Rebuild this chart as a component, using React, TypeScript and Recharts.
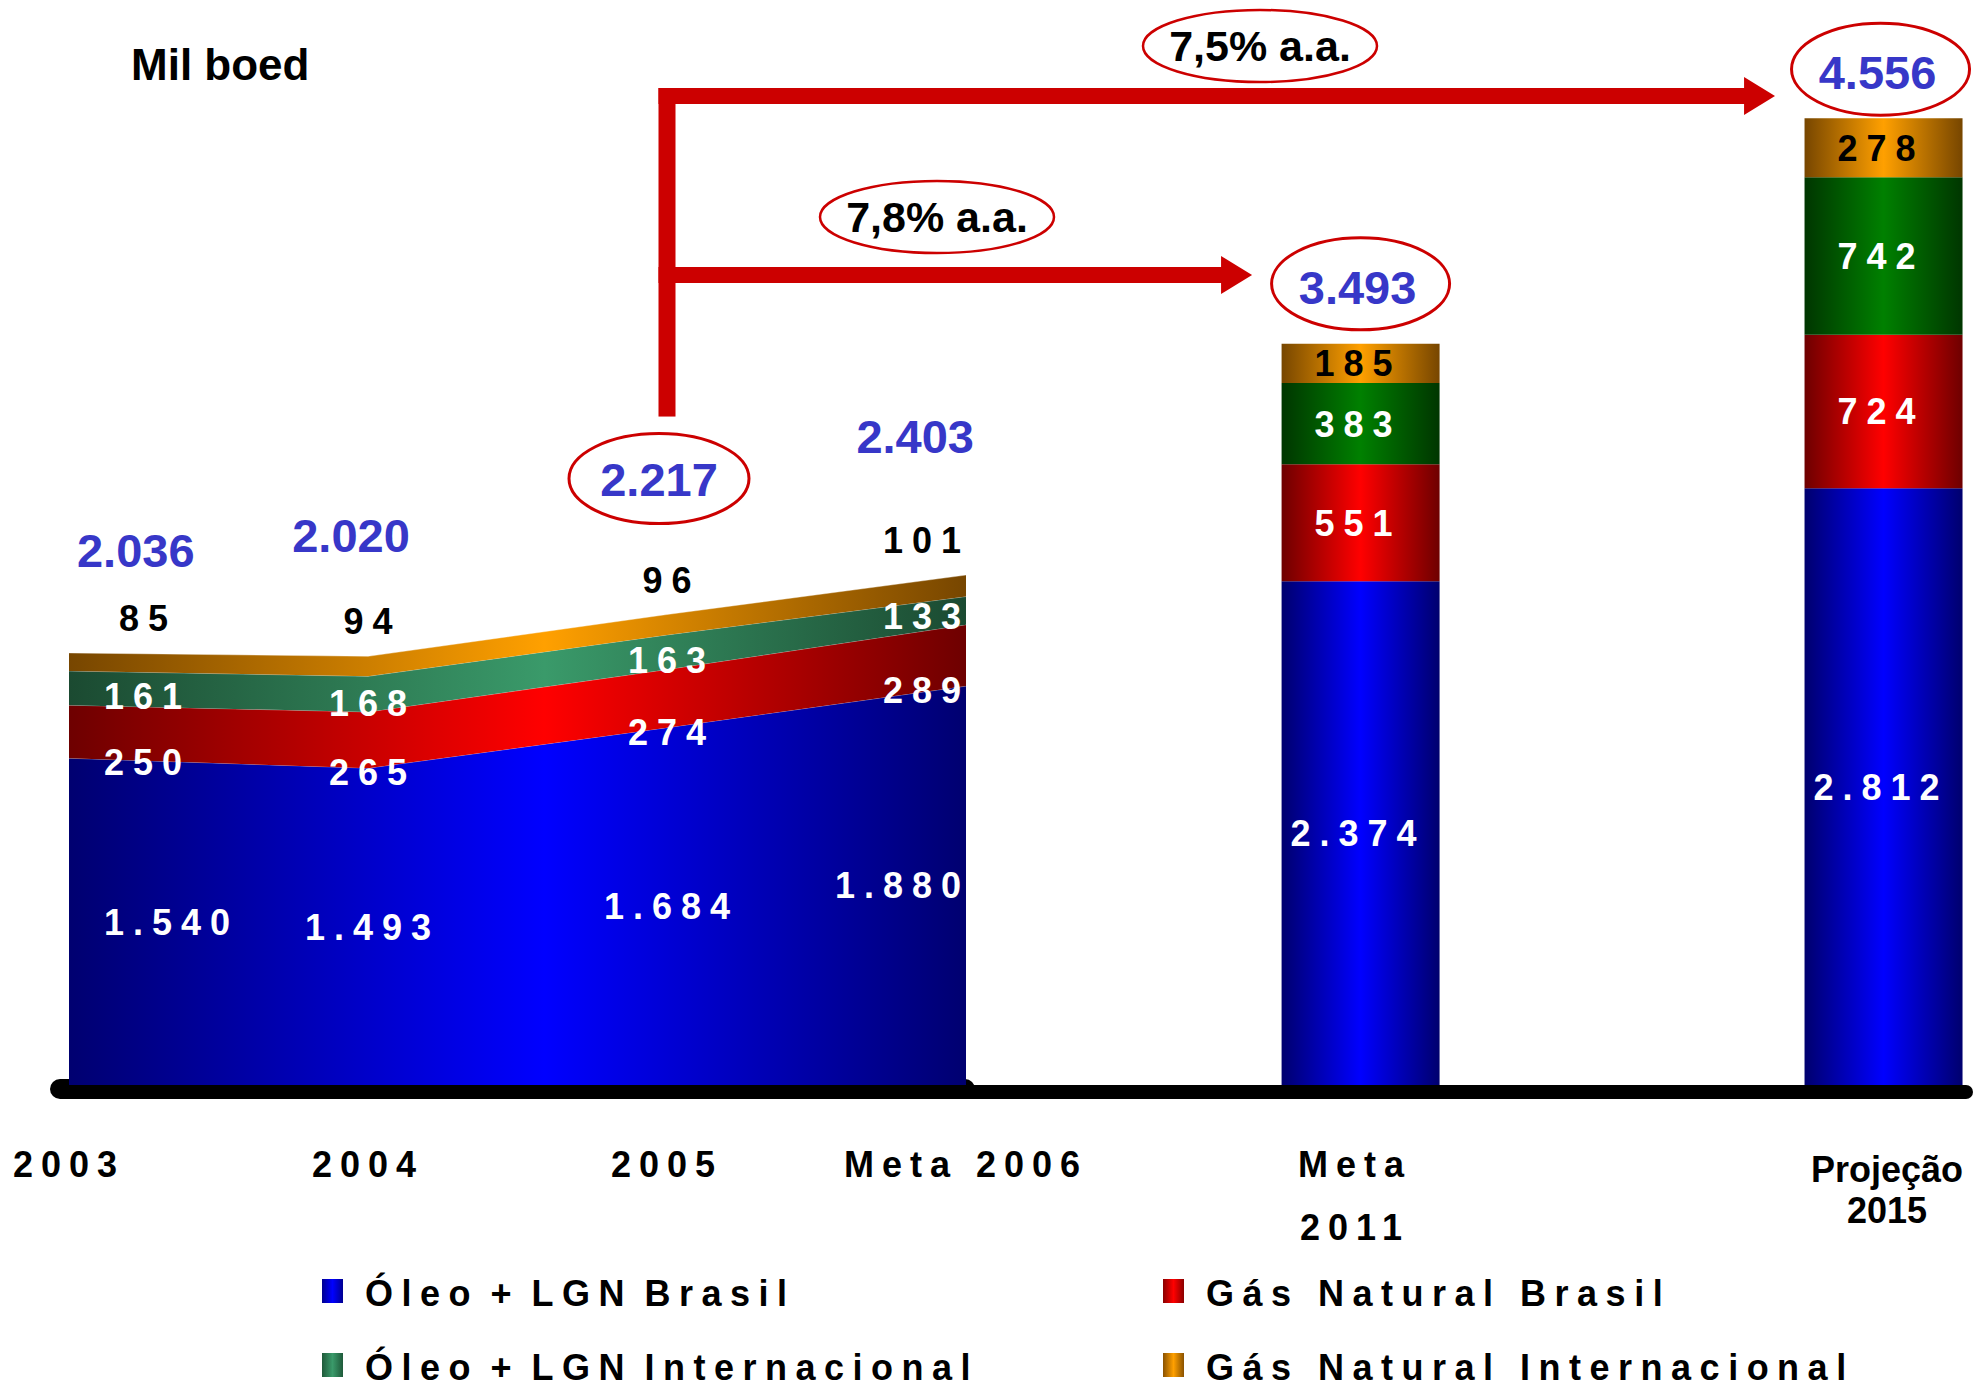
import React from "react"
import {
  ComposedChart,
  Area,
  Bar,
  XAxis,
  YAxis,
  LabelList,
  Legend,
  Customized,
} from "recharts"

// categories along the x axis; the first four are drawn as a stacked area, the last two as bars
const categories = ["2003", "2004", "2005", "Meta 2006", "Meta 2011", "Projeção 2015"]
const slots = [0, 1, 2, 3, 4.318, 6.067] // where each category sits on the x scale
const areaCount = 4

// Mil boed
const oleoBrasil = [1540, 1493, 1684, 1880, 2374, 2812]
const gasBrasil = [250, 265, 274, 289, 551, 724]
const oleoInternacional = [161, 168, 163, 133, 383, 742]
const gasInternacional = [85, 94, 96, 101, 185, 278]

const growthFrom = ["2005", "2005"]
const growthTo = ["Meta 2011", "Projeção 2015"]
const growthLabels = ["7,8% a.a.", "7,5% a.a."]

const series = [
  { key: "oleoBrasil", name: "Óleo + LGN Brasil", values: oleoBrasil, area: ["#000070", "#0000ff"], bar: ["#00006e", "#0000ff"], swatch: ["#000090", "#0000ff"], ink: "#fff" },
  { key: "gasBrasil", name: "Gás Natural Brasil", values: gasBrasil, area: ["#6e0000", "#ff0000"], bar: ["#6e0000", "#ff0000"], swatch: ["#8a0000", "#ff0000"], ink: "#fff" },
  { key: "oleoInternacional", name: "Óleo + LGN Internacional", values: oleoInternacional, area: ["#1b4a31", "#3a9a6a"], bar: ["#003600", "#008000"], swatch: ["#1f5a3a", "#3a9a6a"], ink: "#fff" },
  { key: "gasInternacional", name: "Gás Natural Internacional", values: gasInternacional, area: ["#774600", "#ffa000"], bar: ["#774600", "#ffa000"], swatch: ["#8a5200", "#ffa000"], ink: "#000" },
]

const totals = categories.map((_, i) => series.reduce((t, s) => t + s.values[i], 0))

const rows = categories.map((name, i) => {
  const row: Record<string, number | string> = { name, slot: slots[i] }
  series.forEach((s) => {
    row[(i < areaCount ? "a_" : "b_") + s.key] = s.values[i]
  })
  return row
})

// layout
const W = 1973
const H = 1385
const M_LEFT = 69
const M_RIGHT = 0
const M_TOP = 24
const PLOT_BOTTOM = 1085
const PLOT_W = W - M_LEFT - M_RIGHT
const X_MAX = PLOT_W / 299
const Y_MAX = 5000
const PX_PER_UNIT = (PLOT_BOTTOM - M_TOP) / Y_MAX
const xPx = (s: number) => M_LEFT + (s / X_MAX) * PLOT_W
const yPx = (v: number) => PLOT_BOTTOM - v * PX_PER_UNIT

const FONT = '"Liberation Sans", Arial, Helvetica, sans-serif'
const RED = "#cc0000"
const TOTAL_BLUE = "#3737c8"
const LABEL_SIZE = 36
const LABEL_GAP = 9
const TICK_GAP = 8
const TOTAL_SIZE = 47
// how far each total sits above / beside its point (areas: text baseline, bars: ellipse centre)
const TOTAL_LIFT = [86, 104, 119, 122, 60, 49]
const TOTAL_DX = [0, -17, -8, 8, -3, -6]
const ARROW_Y = [275, 96]
const GROWTH_LABEL_POS = [
  [937, 217],
  [1260, 46],
]

const circled = new Set([...growthFrom, ...growthTo].map((c) => categories.indexOf(c)))

function fmt(v: number) {
  if (v < 1000) return String(v)
  return `${Math.floor(v / 1000)}.${String(v % 1000).padStart(3, "0")}`
}

function textW(t: string, size: number, gap: number) {
  let w = 0
  for (const ch of t) w += (ch === "." || ch === "," ? 0.278 : 0.556) * size
  return w + (t.length - 1) * gap
}

const clamp = (v: number, lo: number, hi: number) => Math.max(lo, Math.min(hi, v))

function geom(p: any) {
  const vb = p.viewBox ?? {}
  return {
    x: p.x ?? vb.x,
    y: p.y ?? vb.y,
    width: p.width ?? vb.width ?? 0,
    height: p.height ?? vb.height ?? 0,
  }
}

// which bar category a label belongs to, from where the library put the bar
function barIndexAt(cx: number) {
  let best = areaCount
  for (let j = areaCount; j < categories.length; j++) {
    if (Math.abs(xPx(slots[j]) - cx) < Math.abs(xPx(slots[best]) - cx)) best = j
  }
  return best
}

function areaTotalPos(i: number, px: number, top: number, text: string) {
  const w = textW(text, TOTAL_SIZE, 0)
  const left = xPx(slots[0])
  const right = xPx(slots[areaCount - 1])
  return { cx: clamp(px, left + w / 2 + 8, right - w / 2) + TOTAL_DX[i], baseline: top - TOTAL_LIFT[i] }
}

function ValueText({ x, y, text, fill }: { x: number; y: number; text: string; fill: string }) {
  return (
    <text
      x={x + LABEL_GAP / 2}
      y={y}
      dy="0.36em"
      textAnchor="middle"
      fontFamily={FONT}
      fontWeight="bold"
      fontSize={LABEL_SIZE}
      letterSpacing={LABEL_GAP}
      fill={fill}
    >
      {text}
    </text>
  )
}

function areaLabel(k: number) {
  return (props: any) => {
    const i = props.index
    if (i == null || i >= areaCount) return null
    const g = geom(props)
    const s = series[k]
    const value = s.values[i]
    const px = g.x ?? xPx(slots[i])
    const top = g.y ?? yPx(series.slice(0, k + 1).reduce((t, q) => t + q.values[i], 0))
    const h = value * PX_PER_UNIT
    let cy = top - 35
    if (k === 0) cy = top + h / 2
    else if (k === 1) cy = top + h + 4
    else if (k === 2) cy = top + h - 9
    const text = fmt(value)
    const w = textW(text, LABEL_SIZE, LABEL_GAP)
    const pad = k === 3 ? 50 : 35
    const cx = clamp(px, xPx(slots[0]) + w / 2 + pad, xPx(slots[areaCount - 1]) - w / 2 - 5)
    return <ValueText x={cx} y={cy} text={text} fill={k === 3 ? "#000" : s.ink} />
  }
}

function areaTotal(props: any) {
  const i = props.index
  if (i == null || i >= areaCount) return null
  const g = geom(props)
  const text = fmt(totals[i])
  const pos = areaTotalPos(i, g.x ?? xPx(slots[i]), g.y ?? yPx(totals[i]), text)
  return (
    <g>
      {circled.has(i) && (
        <ellipse cx={pos.cx} cy={pos.baseline - 17} rx={90} ry={45} fill="none" stroke={RED} strokeWidth={3} />
      )}
      <text x={pos.cx} y={pos.baseline} textAnchor="middle" fontFamily={FONT} fontWeight="bold" fontSize={TOTAL_SIZE} fill={TOTAL_BLUE}>
        {text}
      </text>
    </g>
  )
}

function barLabel(k: number) {
  return (props: any) => {
    const g = geom(props)
    if (g.x == null || g.y == null || !g.height) return null
    const cx = g.x + g.width / 2
    const i = barIndexAt(cx)
    const s = series[k]
    return <ValueText x={cx - 7} y={g.y + g.height / 2} text={fmt(s.values[i])} fill={s.ink} />
  }
}

function barTotal(props: any) {
  const g = geom(props)
  if (g.x == null || g.y == null || !g.height) return null
  const i = barIndexAt(g.x + g.width / 2)
  const cx = g.x + g.width / 2 + TOTAL_DX[i]
  const cy = g.y - TOTAL_LIFT[i]
  return (
    <g>
      {circled.has(i) && <ellipse cx={cx + 3} cy={cy} rx={89} ry={46} fill="none" stroke={RED} strokeWidth={3} />}
      <text x={cx} y={cy + 20} textAnchor="middle" fontFamily={FONT} fontWeight="bold" fontSize={TOTAL_SIZE} fill={TOTAL_BLUE}>
        {fmt(totals[i])}
      </text>
    </g>
  )
}

function XTick(props: any) {
  const { x } = props
  const i = props.index ?? slots.indexOf(props.payload?.value)
  const name = categories[i]
  if (!name) return null
  const plain = name.startsWith("Projeção")
  const lines = i >= areaCount ? name.split(" ") : [name]
  const base = PLOT_BOTTOM + (plain ? 97 : 92)
  const gap = plain ? 41 : 63
  const dx = plain ? 4 : i >= areaCount ? -5 : 0
  return (
    <g>
      {lines.map((ln, j) => (
        <text
          key={j}
          x={x + dx}
          y={base + j * gap}
          textAnchor="middle"
          fontFamily={FONT}
          fontWeight="bold"
          fontSize={36}
          letterSpacing={plain ? 0 : TICK_GAP}
          fill="#000"
        >
          {ln}
        </text>
      ))}
    </g>
  )
}

function Overlay() {
  const left = xPx(slots[0])
  const right = xPx(slots[areaCount - 1])
  const fromIdx = categories.indexOf(growthFrom[0])
  const src = xPx(slots[fromIdx])
  const srcTotal = areaTotalPos(fromIdx, src, yPx(totals[fromIdx]), fmt(totals[fromIdx]))
  const shaftBottom = srcTotal.baseline - 17 - 45 - 17
  const shaftTop = Math.min(...ARROW_Y) - 8
  return (
    <g>
      <text x={131} y={80} fontFamily={FONT} fontWeight="bold" fontSize={44} fill="#000">
        Mil boed
      </text>
      <rect x={left - 19} y={PLOT_BOTTOM - 6} width={right - left + 28} height={20} rx={10} fill="#000" />
      <rect x={right - 10} y={PLOT_BOTTOM} width={W - right + 10} height={14} rx={7} fill="#000" />
      <rect x={src - 8.5} y={shaftTop} width={17} height={shaftBottom - shaftTop} fill={RED} />
      {growthTo.map((to, k) => {
        const tip = xPx(slots[categories.indexOf(to)]) - 108
        const y = ARROW_Y[k]
        const [lx, ly] = GROWTH_LABEL_POS[k]
        return (
          <g key={to}>
            <rect x={src - 8.5} y={y - 8} width={tip - 30 - src + 8.5} height={16} fill={RED} />
            <polygon points={`${tip - 31},${y - 19} ${tip},${y} ${tip - 31},${y + 19}`} fill={RED} />
            <ellipse cx={lx} cy={ly} rx={117} ry={36} fill="none" stroke={RED} strokeWidth={2.5} />
            <text x={lx} y={ly + 15} textAnchor="middle" fontFamily={FONT} fontWeight="bold" fontSize={43} fill="#000">
              {growthLabels[k]}
            </text>
          </g>
        )
      })}
    </g>
  )
}

function LegendContent() {
  return (
    <div style={{ position: "relative", width: W, height: H, fontFamily: FONT }}>
      {series.map((s, k) => {
        const col = k % 2
        const row = Math.floor(k / 2)
        const baseline = row === 0 ? 1306 : 1380
        const sx = col === 0 ? 322 : 1163
        return (
          <React.Fragment key={s.key}>
            <div
              style={{
                position: "absolute",
                left: sx,
                top: baseline - 27,
                width: 21,
                height: 24,
                background: `linear-gradient(to right, ${s.swatch[0]}, ${s.swatch[1]} 50%, ${s.swatch[0]})`,
              }}
            />
            <div
              style={{
                position: "absolute",
                left: sx + 43,
                top: baseline - 30.5,
                fontSize: 36,
                lineHeight: "36px",
                fontWeight: "bold",
                letterSpacing: 8.5,
                wordSpacing: s.name.includes("+") ? -7 : 0,
                whiteSpace: "nowrap",
                color: "#000",
              }}
            >
              {s.name}
            </div>
          </React.Fragment>
        )
      })}
    </div>
  )
}

export default function App() {
  return (
    <div style={{ position: "absolute", left: 0, top: 0, width: W, height: H, background: "#fff" }}>
      <ComposedChart width={W} height={H} data={rows} margin={{ top: M_TOP, right: M_RIGHT, left: M_LEFT, bottom: 0 }}>
        <defs>
          {series.map((s) => (
            <React.Fragment key={s.key}>
              <linearGradient id={`area-${s.key}`} x1="0" y1="0" x2="1" y2="0">
                <stop offset="0" stopColor={s.area[0]} />
                <stop offset="0.53" stopColor={s.area[1]} />
                <stop offset="1" stopColor={s.area[0]} />
              </linearGradient>
              <linearGradient id={`bar-${s.key}`} x1="0" y1="0" x2="1" y2="0">
                <stop offset="0" stopColor={s.bar[0]} />
                <stop offset="0.5" stopColor={s.bar[1]} />
                <stop offset="1" stopColor={s.bar[0]} />
              </linearGradient>
            </React.Fragment>
          ))}
        </defs>
        <XAxis
          dataKey="slot"
          type="number"
          domain={[0, X_MAX]}
          ticks={slots}
          interval={0}
          allowDataOverflow
          axisLine={false}
          tickLine={false}
          height={H - PLOT_BOTTOM}
          tick={<XTick />}
        />
        <YAxis hide type="number" domain={[0, Y_MAX]} allowDataOverflow />
        {series.map((s, k) => (
          <Area
            key={"a_" + s.key}
            type="linear"
            dataKey={"a_" + s.key}
            name={s.name}
            stackId="area"
            stroke="rgba(255,255,255,0.35)"
            strokeWidth={1}
            fill={`url(#area-${s.key})`}
            fillOpacity={1}
            dot={false}
            activeDot={false}
            isAnimationActive={false}
          >
            <LabelList dataKey={"a_" + s.key} content={areaLabel(k)} />
            {k === series.length - 1 && <LabelList dataKey={"a_" + s.key} content={areaTotal} />}
          </Area>
        ))}
        {series.map((s, k) => (
          <Bar
            key={"b_" + s.key}
            dataKey={"b_" + s.key}
            name={s.name}
            stackId="bar"
            barSize={158}
            fill={`url(#bar-${s.key})`}
            isAnimationActive={false}
          >
            <LabelList dataKey={"b_" + s.key} content={barLabel(k)} />
            {k === series.length - 1 && <LabelList dataKey={"b_" + s.key} content={barTotal} />}
          </Bar>
        ))}
        <Customized component={Overlay} />
        <Legend
          layout="horizontal"
          verticalAlign="middle"
          align="center"
          wrapperStyle={{ position: "absolute", left: 0, top: 0, width: W, height: H, pointerEvents: "none" }}
          content={<LegendContent />}
        />
      </ComposedChart>
    </div>
  )
}
